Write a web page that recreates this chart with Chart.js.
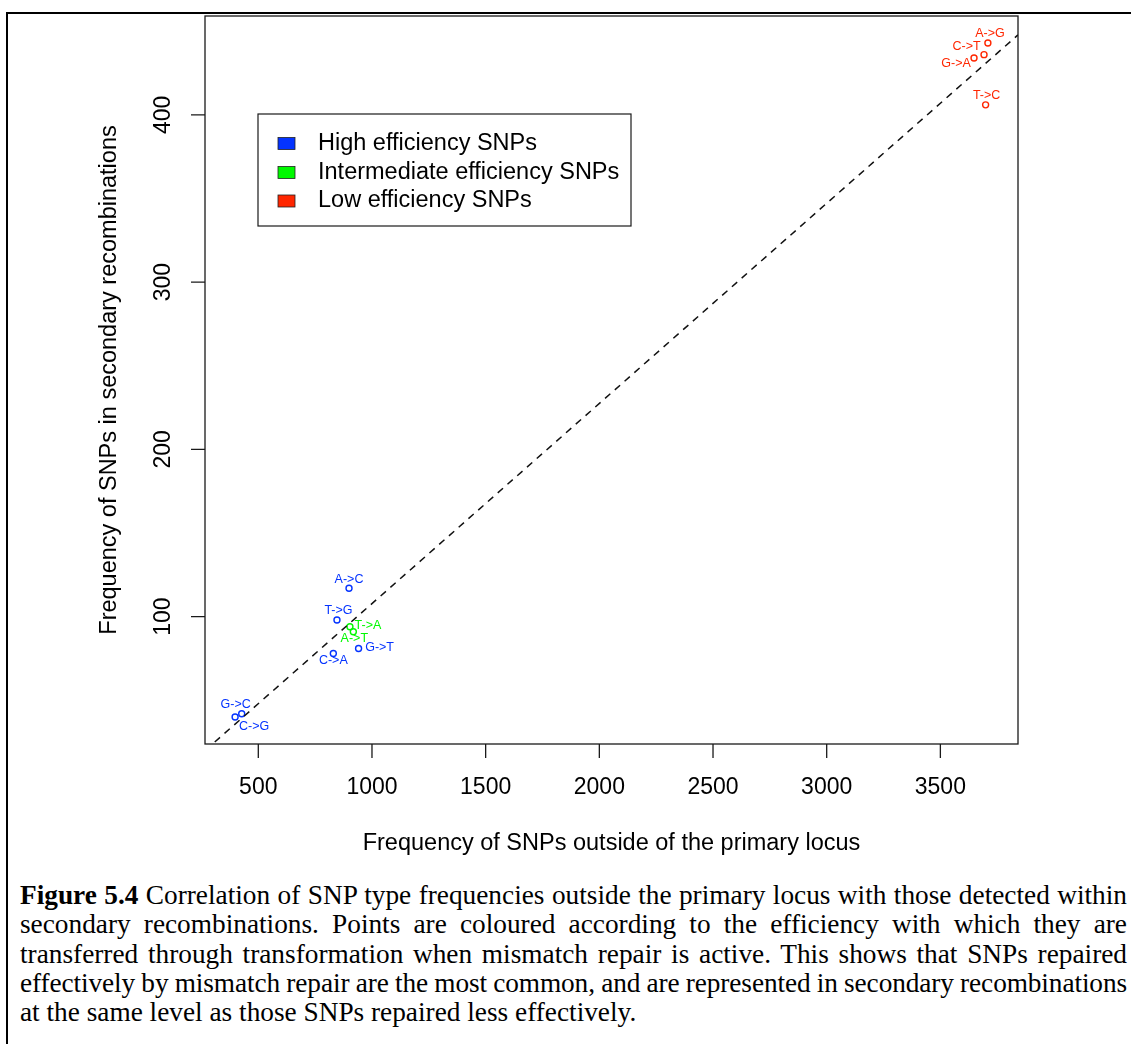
<!DOCTYPE html>
<html>
<head>
<meta charset="utf-8">
<title>SNP type frequencies</title>
<script src="https://cdn.jsdelivr.net/npm/chart.js@4.4.1/dist/chart.umd.min.js"></script>
<style>
  html, body { margin: 0; padding: 0; background: #fff; }
  body { width: 1131px; height: 1044px; position: relative; overflow: hidden; }
  #frame { position: absolute; left: 6px; top: 12px; width: 1200px; height: 1100px;
           border-left: 2px solid #000; border-top: 2px solid #000; }
  #plot { position: absolute; left: 0; top: 0; width: 1131px; height: 870px; }
  #caption { position: absolute; left: 20px; top: 881px; width: 1107px;
             font-family: "Liberation Serif", "Times New Roman", serif;
             font-size: 27.3px; line-height: 29.3px; color: #000; }
  #caption div { white-space: nowrap; text-align: justify; text-align-last: justify; }
  #caption div.tight { word-spacing: -3px; letter-spacing: -0.1px; }
  #caption div.last { text-align-last: left; }
</style>
</head>
<body>
<div id="frame"></div>
<div id="plot"><canvas id="chart"></canvas></div>
<div id="caption">
  <div><b>Figure 5.4</b> Correlation of SNP type frequencies outside the primary locus with those detected within</div>
  <div>secondary recombinations. Points are coloured according to the efficiency with which they are</div>
  <div>transferred through transformation when mismatch repair is active. This shows that SNPs repaired</div>
  <div class="tight">effectively by mismatch repair are the most common, and are represented in secondary recombinations</div>
  <div class="last">at the same level as those SNPs repaired less effectively.</div>
</div>
<script>
// ---- data: SNP type counts (outside primary locus vs. within secondary recombinations)
const highLabels    = ['A->C', 'T->G', 'G->T', 'C->A', 'G->C', 'C->G'];
const highOutside   = [899, 846, 941, 830, 427, 398];
const highSecondary = [117, 98, 81, 78, 42, 40];

const midLabels     = ['T->A', 'A->T'];
const midOutside    = [903, 918];
const midSecondary  = [94, 91];

const lowLabels     = ['A->G', 'C->T', 'G->A', 'T->C'];
const lowOutside    = [3709, 3692, 3648, 3699];
const lowSecondary  = [443, 436, 434, 406];

const seriesNames = ['High efficiency SNPs', 'Intermediate efficiency SNPs', 'Low efficiency SNPs'];
const xTicks = [500, 1000, 1500, 2000, 2500, 3000, 3500];
const yTicks = [100, 200, 300, 400];
const xTitle = 'Frequency of SNPs outside of the primary locus';
const yTitle = 'Frequency of SNPs in secondary recombinations';

// ---- styling
const colHigh = '#0433ff', colMid = '#00f900', colLow = '#ff2600';
const sans = '"Liberation Sans", Arial, Helvetica, sans-serif';
const tickFont = '23px ' + sans;
const titleFont = '23.5px ' + sans;
const labelFont = '12.5px ' + sans;

// label placement around each point (pixel nudge of the label centre)
const highNudge = [[0, -8.5], [1.5, -9.5], [21, -0.5], [0, 7], [-6, -9.5], [19, 9.7]];
const midNudge  = [[18, -1], [1, 6.5]];
const lowNudge  = [[2, -9.5], [-17.5, -8.5], [-18, 6], [1, -9.5]];

const toPoints = (xs, ys) => xs.map((v, i) => ({ x: v, y: ys[i] }));

// axis limits padded by 4% of the data range on each side
const allX = [...highOutside, ...midOutside, ...lowOutside];
const allY = [...highSecondary, ...midSecondary, ...lowSecondary];
function padded(arr) {
  const lo = Math.min(...arr), hi = Math.max(...arr), d = (hi - lo) * 0.04;
  return [lo - d, hi + d];
}
const xLim = padded(allX), yLim = padded(allY);

// least-squares fit of secondary on outside counts
const n = allX.length;
const mx = allX.reduce((s, v) => s + v, 0) / n;
const my = allY.reduce((s, v) => s + v, 0) / n;
let sxy = 0, sxx = 0;
allX.forEach((v, i) => { sxy += (v - mx) * (allY[i] - my); sxx += (v - mx) * (v - mx); });
const slope = sxy / sxx, intercept = my - slope * mx;
const fitLine = xLim.map(v => ({ x: v, y: intercept + slope * v }));

// point labels drawn next to each marker
const pointLabels = {
  id: 'pointLabels',
  afterDatasetsDraw(chart) {
    const { ctx } = chart;
    ctx.save();
    ctx.font = labelFont;
    ctx.textAlign = 'center';
    ctx.textBaseline = 'middle';
    chart.data.datasets.forEach((ds, di) => {
      if (!ds.snpLabels) return;
      const meta = chart.getDatasetMeta(di);
      ctx.fillStyle = ds.borderColor;
      meta.data.forEach((el, i) => {
        const [dx, dy] = ds.nudge[i];
        ctx.fillText(ds.snpLabels[i], el.x + dx, el.y + dy);
      });
    });
    ctx.restore();
  }
};

// box, ticks, tick labels, axis titles and legend
const frame = {
  id: 'frame',
  afterDraw(chart) {
    const { ctx, chartArea: a, scales: { x, y } } = chart;
    ctx.save();
    ctx.strokeStyle = '#1a1a1a';
    ctx.lineWidth = 1.3;
    ctx.strokeRect(a.left, a.top, a.right - a.left, a.bottom - a.top);

    ctx.beginPath();
    xTicks.forEach(v => { const px = x.getPixelForValue(v); ctx.moveTo(px, a.bottom); ctx.lineTo(px, a.bottom + 14); });
    yTicks.forEach(v => { const py = y.getPixelForValue(v); ctx.moveTo(a.left, py); ctx.lineTo(a.left - 14, py); });
    ctx.stroke();

    ctx.fillStyle = '#000';
    ctx.font = tickFont;
    ctx.textAlign = 'center';
    ctx.textBaseline = 'middle';
    xTicks.forEach(v => ctx.fillText(String(v), x.getPixelForValue(v), a.bottom + 44));
    yTicks.forEach(v => {
      ctx.save();
      ctx.translate(a.left - 41.5, y.getPixelForValue(v));
      ctx.rotate(-Math.PI / 2);
      ctx.fillText(String(v), 0, 0);
      ctx.restore();
    });
    ctx.font = titleFont;
    ctx.fillText(xTitle, (a.left + a.right) / 2, a.bottom + 100);
    ctx.save();
    ctx.translate(a.left - 95, (a.top + a.bottom) / 2);
    ctx.rotate(-Math.PI / 2);
    ctx.fillText(yTitle, 0, 0);
    ctx.restore();

    // legend
    const lx = a.left + 53, ly = a.top + 98, lw = 373, lh = 112;
    ctx.fillStyle = '#fff';
    ctx.fillRect(lx, ly, lw, lh);
    ctx.strokeStyle = '#1a1a1a';
    ctx.lineWidth = 1.2;
    ctx.strokeRect(lx, ly, lw, lh);
    const cols = [colHigh, colMid, colLow];
    const rows = [29.5, 58.5, 87];
    ctx.textAlign = 'left';
    seriesNames.forEach((name, i) => {
      const cy = ly + rows[i];
      ctx.fillStyle = cols[i];
      ctx.fillRect(lx + 20, cy - 6, 17, 12);
      ctx.lineWidth = 0.8;
      ctx.strokeStyle = '#222';
      ctx.strokeRect(lx + 20, cy - 6, 17, 12);
      ctx.fillStyle = '#000';
      ctx.fillText(name, lx + 60, cy);
    });
    ctx.restore();
  }
};

const scatterStyle = col => ({
  showLine: false,
  borderColor: col,
  backgroundColor: 'rgba(0,0,0,0)',
  pointRadius: 3,
  pointBorderWidth: 1.4,
  pointStyle: 'circle',
  order: 1
});

new Chart(document.getElementById('chart'), {
  type: 'scatter',
  data: {
    datasets: [
      Object.assign({ label: seriesNames[0], data: toPoints(highOutside, highSecondary), snpLabels: highLabels, nudge: highNudge }, scatterStyle(colHigh)),
      Object.assign({ label: seriesNames[1], data: toPoints(midOutside, midSecondary), snpLabels: midLabels, nudge: midNudge }, scatterStyle(colMid)),
      Object.assign({ label: seriesNames[2], data: toPoints(lowOutside, lowSecondary), snpLabels: lowLabels, nudge: lowNudge }, scatterStyle(colLow)),
      {
        label: 'fit',
        type: 'line',
        data: fitLine,
        borderColor: '#111',
        borderWidth: 1.5,
        borderDash: [7, 6],
        pointRadius: 0,
        fill: false,
        order: 0
      }
    ]
  },
  options: {
    responsive: true,
    maintainAspectRatio: false,
    animation: false,
    events: [],
    layout: { padding: { left: 205, top: 16, right: 113, bottom: 126 } },
    plugins: { legend: { display: false }, tooltip: { enabled: false } },
    scales: {
      x: { type: 'linear', display: false, min: xLim[0], max: xLim[1] },
      y: { type: 'linear', display: false, min: yLim[0], max: yLim[1] }
    }
  },
  plugins: [pointLabels, frame]
});
</script>
</body>
</html>
